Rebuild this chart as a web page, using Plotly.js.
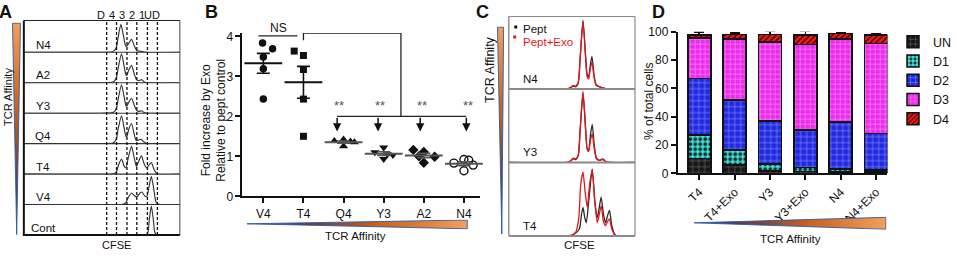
<!DOCTYPE html>
<html><head><meta charset="utf-8">
<script src="https://cdn.plot.ly/plotly-3.0.1.min.js"></script>
<style>html,body{margin:0;padding:0;background:#fff;} #chart{width:957px;height:256px;}</style>
</head><body><div id="chart"></div>
<script>
// ---------------- DATA ----------------
// Panel A: CFSE histograms (arbitrary CFSE units 0-100, normalised height 0-1)
const rowsA = ['N4','A2','Y3','Q4','T4','V4','Cont'];
const gatesA = [53.1,59.4,66.1,72.4,79.2,85.6];
const gateLabelsA = ['D','4','3','2','1','UD'];
const A_N4 = [[0,0],[50,0],[56.9,0.02],[58.1,0.06],[59.3,0.16],[60.3,0.45],[62.2,0.92],[64.0,0.5],[65.0,0.25],[65.8,0.19],[67.3,0.3],[69.0,0.43],[70.7,0.22],[72.4,0.06],[75.4,0.03],[78.1,0],[100,0]];
const A_A2 = [[0,0],[50,0],[57,0.02],[58.3,0.07],[59.4,0.18],[60.5,0.5],[62.6,0.95],[64.4,0.5],[65.3,0.28],[65.9,0.24],[67.3,0.42],[69.0,0.57],[70.7,0.3],[72.2,0.1],[73.5,0.07],[75.6,0.1],[77,0.03],[78.5,0],[100,0]];
const A_Y3 = [[0,0],[50,0],[57,0.02],[58.3,0.07],[59.4,0.17],[60.5,0.48],[62.6,0.93],[64.4,0.5],[65.3,0.27],[65.9,0.22],[67.3,0.36],[69.0,0.49],[70.7,0.27],[72.2,0.1],[73.5,0.06],[75.6,0.08],[77,0.02],[78.5,0],[100,0]];
const A_Q4 = [[0,0],[50,0],[57,0.02],[58.3,0.07],[59.4,0.18],[60.5,0.5],[62.6,0.91],[64.4,0.48],[65.3,0.26],[65.9,0.22],[67.3,0.48],[69.0,0.66],[70.7,0.32],[71.9,0.11],[73.5,0.12],[75.2,0.14],[76.8,0.06],[79,0],[100,0]];
const A_T4 = [[0,0],[56,0],[58,0.02],[59.4,0.08],[60.7,0.3],[62.6,0.49],[64.3,0.26],[65.4,0.2],[67.0,0.55],[69.0,0.91],[70.9,0.5],[72.2,0.25],[73.8,0.45],[75.4,0.6],[77.2,0.32],[78.8,0.2],[80.2,0.3],[81.7,0.38],[83.5,0.15],[85.5,0],[100,0]];
const A_V4 = [[0,0],[62,0],[64,0.02],[65.4,0.06],[67,0.24],[69,0.38],[70.7,0.3],[72.2,0.25],[74.5,0.38],[75.8,0.41],[77.5,0.28],[78.8,0.26],[80.1,0.55],[81.7,0.93],[83.3,0.5],[84.6,0.1],[86,0.02],[87.7,0],[100,0]];
const A_Cont = [[0,0],[77,0],[78.7,0.02],[79.6,0.1],[80.4,0.5],[81.7,0.95],[83.0,0.5],[83.9,0.1],[84.9,0.02],[86,0],[100,0]];

// Panel B: fold increase by Exo
const catsB = ['V4','T4','Q4','Y3','A2','N4'];
const B_V4 = [3.83,3.69,3.48,3.19,2.43];
const B_T4 = [3.63,3.52,3.17,2.43,1.50];
const B_Q4 = [1.38,1.42,1.37,1.35,1.25];
const B_Y3 = [1.22,1.10,1.05,1.03,0.93];
const B_A2 = [1.16,1.11,1.00,0.99,0.84];
const B_N4 = [0.92,0.83,0.90,0.78,0.64];

// Panel C: CFSE histograms Pept vs Pept+Exo
const rowsC = ['N4','Y3','T4'];
const C_N4_pept = [[0,0],[46,0],[49,0.02],[51,0.04],[53,0.03],[55,0.08],[56.5,0.4],[58.8,0.95],[60.9,0.45],[62.1,0.2],[63.3,0.17],[64.5,0.32],[65.9,0.45],[67.5,0.2],[69.2,0.06],[72,0.03],[76,0.01],[79,0],[100,0]];
const C_N4_exo  = [[0,0],[46,0],[49,0.02],[51,0.05],[53,0.04],[55,0.09],[56.5,0.42],[58.8,0.93],[60.9,0.42],[62.1,0.17],[63.3,0.14],[64.5,0.27],[65.9,0.37],[67.5,0.17],[69.2,0.05],[72,0.03],[76,0.01],[79,0],[100,0]];
const C_Y3_pept = [[0,0],[46,0],[49,0.02],[51,0.05],[53,0.04],[55,0.09],[56.5,0.42],[58.8,0.94],[60.9,0.44],[62.1,0.19],[63.3,0.16],[64.6,0.36],[66.1,0.52],[67.7,0.24],[69.5,0.06],[72,0.03],[74.6,0.05],[77,0.01],[80,0],[100,0]];
const C_Y3_exo  = [[0,0],[46,0],[49,0.02],[51,0.06],[53,0.05],[55,0.1],[56.5,0.44],[58.8,0.97],[60.9,0.45],[62.1,0.18],[63.3,0.15],[64.6,0.29],[66.1,0.39],[67.7,0.19],[69.5,0.05],[72,0.03],[74.6,0.04],[77,0.01],[80,0],[100,0]];
const C_T4_pept = [[0,0],[48,0],[53,0.04],[56,0.1],[57.5,0.28],[58.8,0.39],[60.2,0.25],[61.4,0.18],[63.5,0.5],[66.1,0.91],[68.3,0.45],[70.1,0.25],[71.8,0.4],[73.2,0.53],[75,0.3],[76.6,0.18],[78.3,0.28],[79.8,0.35],[81.5,0.15],[84,0.02],[86,0],[100,0]];
const C_T4_exo  = [[0,0],[48,0],[53,0.05],[55.5,0.25],[57,0.7],[58.8,0.87],[60.5,0.6],[62.2,0.39],[64,0.7],[66.1,0.9],[68,0.5],[70.1,0.18],[71.8,0.3],[73.2,0.41],[75,0.2],[76.6,0.14],[78.3,0.2],[79.8,0.23],[81.5,0.1],[84,0.01],[86,0],[100,0]];

// Panel D: % of total cells
const catsD = ['T4','T4+Exo','Y3','Y3+Exo','N4','N4+Exo'];
const D_UN = [10.6,5.9,1.5,1.1,1.0,0.8];
const D_D1 = [16.4,10.5,5.0,2.9,2.0,1.5];
const D_D2 = [40.0,35.3,30.4,26.6,33.4,25.9];
const D_D3 = [28.7,43.1,56.0,60.4,58.4,63.5];
const D_D4 = [1.9,3.3,5.2,6.6,4.0,5.9];
const D_D2_err = [0.7,1.7,3.1,2.3,2.8,1.6];
const D_D4_err = [2.4,0.8,2.3,2.8,0.6,1.2];

// ---------------- DRAWING ----------------
const W = 957, H = 256;
const px = v => v / W;
const py = v => 1 - v / H;
const FONT = 'Arial, "Liberation Sans", sans-serif';
const traces = [], shapes = [], annotations = [], images = [];
const layout = {
  width: W, height: H, margin: {l:0, r:0, t:0, b:0},
  paper_bgcolor: '#fff', plot_bgcolor: 'rgba(0,0,0,0)',
  font: {family: FONT, size: 12, color: '#111'},
  barmode: 'stack', showlegend: true,
  legend: {x: px(899), y: py(27), xanchor: 'left', yanchor: 'top', traceorder: 'normal',
           font: {size: 12.5, color: '#111'}, bgcolor: 'rgba(0,0,0,0)', tracegroupgap: 0}
};
function ann(text, x, y, o) {
  annotations.push(Object.assign({text: text, xref: 'paper', yref: 'paper', x: px(x), y: py(y),
    xanchor: 'center', yanchor: 'middle', showarrow: false, font: {size: 11, color: '#111'}}, o || {}));
}
function pline(x0, y0, x1, y1, color, width, dash) {
  shapes.push({type: 'line', xref: 'paper', yref: 'paper', x0: px(x0), y0: py(y0), x1: px(x1), y1: py(y1),
    line: {color: color, width: width, dash: dash || 'solid'}});
}
function triangle(x, y, w, h, pts, horizontal) {
  const stops = ['#1f3c8c','#6a3f45','#c9621f','#f2a05c'];
  const offs = horizontal ? [0, 0.3, 0.6, 1] : [1, 0.72, 0.4, 0];
  const grad = horizontal ? "x1='0' y1='0' x2='1' y2='0'" : "x1='0' y1='0' x2='0' y2='1'";
  let st = '';
  const order = horizontal ? [0,1,2,3] : [3,2,1,0];
  order.forEach(i => { st += "<stop offset='" + offs[i] + "' stop-color='" + stops[i] + "'/>"; });
  const svg = "<svg xmlns='http://www.w3.org/2000/svg' width='" + w + "' height='" + h + "' viewBox='0 0 " + w + " " + h +
    "' preserveAspectRatio='none'><defs><linearGradient id='g' " + grad + ">" + st + "</linearGradient></defs>" +
    "<polygon points='" + pts + "' fill='url(#g)' stroke='#2d5aa8' stroke-width='0.9'/></svg>";
  images.push({source: 'data:image/svg+xml;base64,' + btoa(svg), xref: 'paper', yref: 'paper',
    x: px(x), y: py(y), sizex: w / W, sizey: h / H, sizing: 'stretch', xanchor: 'left', yanchor: 'top', layer: 'above'});
}

// ----- Panel A -----
const histA = [A_N4, A_A2, A_Y3, A_Q4, A_T4, A_V4, A_Cont];
const A_L = 24, A_R = 181, A_TOP = 20.5, A_B0 = 52.3, A_ROW = 30.45;
layout.xaxis = {domain: [px(A_L), px(A_R)], range: [0, 100], visible: false, anchor: 'y7', fixedrange: true};
rowsA.forEach((name, i) => {
  const yid = i === 0 ? 'y' : 'y' + (i + 1);
  const key = i === 0 ? 'yaxis' : 'yaxis' + (i + 1);
  const base = A_B0 + i * A_ROW;
  layout[key] = {domain: [py(base), py(base - A_ROW)], range: [0, 1], visible: false, anchor: 'x', fixedrange: true};
  traces.push({type: 'scatter', mode: 'lines', x: histA[i].map(p => p[0]), y: histA[i].map(p => p[1]),
    xaxis: 'x', yaxis: yid, line: {color: '#333', width: 1.15, shape: 'spline', smoothing: 0.6},
    showlegend: false, hoverinfo: 'skip', cliponaxis: false});
  if (i < rowsA.length - 1) pline(A_L, base, A_R, base, '#333', 1.1);
  ann(name, 43.5, base - 7.5, {font: {size: 11.5, color: '#111'}});
});
// frame
pline(A_L, A_TOP, A_R, A_TOP, '#222', 1);
pline(A_R, A_TOP, A_R, A_B0 + 6 * A_ROW, '#444', 1);
pline(A_L, A_B0 + 6 * A_ROW, A_R, A_B0 + 6 * A_ROW, '#111', 2);
pline(A_L, A_TOP, A_L, A_B0 + 6 * A_ROW + 1, '#111', 2);
gatesA.forEach(g => {
  shapes.push({type: 'line', xref: 'x', yref: 'paper', x0: g, x1: g, y0: py(A_B0 + 6 * A_ROW), y1: py(A_TOP),
    line: {color: '#111', width: 1.3, dash: '3px,2px'}});
});
gateLabelsA.forEach((t, i) => {
  const xpos = i === 0 ? gatesA[0] - 3.8 : (gatesA[i - 1] + gatesA[i]) / 2;
  annotations.push({text: t, xref: 'x', yref: 'paper', x: xpos, y: py(15), showarrow: false,
    xanchor: 'center', yanchor: 'middle', font: {size: 11, color: '#111'}});
});
ann('CFSE', 117, 244.5, {font: {size: 11, color: '#111'}});
ann('TCR Affinity', 8, 97, {textangle: -90, font: {size: 11, color: '#111'}});
triangle(12, 22.5, 10, 213, '0.6,0.6 8.6,0.6 4.8,212', false);
ann('<b>A</b>', 6, 12, {font: {size: 18, color: '#111'}});

// ----- Panel B -----
const groupsB = [B_V4, B_T4, B_Q4, B_Y3, B_A2, B_N4];
const jitterB = [[-0.02,0.23,0,0,0],[-0.23,0,0,0,0],[-0.23,0,0.17,0.27,0],[0,-0.22,0.09,0.23,0],[-0.26,0,-0.12,0.27,0],[0,-0.25,0.12,0.23,0]];
const symB = ['circle','square','triangle-up','triangle-down','diamond','circle-open'];
const sizeB = [7.5,7,8,8,8,8];
layout.xaxis2 = {domain: [px(244), px(483)], range: [-0.52, 5.4], anchor: 'y8', tickvals: [0,1,2,3,4,5], ticktext: catsB,
  showline: true, linewidth: 2, linecolor: '#111', ticks: 'outside', ticklen: 5, tickwidth: 2, tickcolor: '#111',
  showgrid: false, zeroline: false, tickfont: {size: 12, color: '#111'}, fixedrange: true};
layout.yaxis8 = {domain: [py(196.3), py(33.1)], range: [0, 4.08], anchor: 'x2', tickvals: [0,1,2,3,4],
  showline: true, linewidth: 2, linecolor: '#111', ticks: 'outside', ticklen: 5, tickwidth: 2, tickcolor: '#111',
  showgrid: false, zeroline: false, tickfont: {size: 12, color: '#111'}, fixedrange: true};
const meanOf = a => a.reduce((s, v) => s + v, 0) / a.length;
const semOf = a => { const m = meanOf(a); return Math.sqrt(a.reduce((s, v) => s + (v - m) * (v - m), 0) / (a.length - 1) / a.length); };
groupsB.forEach((g, i) => {
  traces.push({type: 'scatter', mode: 'markers', x: g.map((v, j) => i + jitterB[i][j]), y: g, xaxis: 'x2', yaxis: 'y8',
    marker: {symbol: symB[i], size: sizeB[i], color: '#111', line: {color: '#111', width: symB[i] === 'circle-open' ? 1.4 : 0}},
    showlegend: false, hoverinfo: 'skip', cliponaxis: false});
});
groupsB.forEach((g, i) => {
  traces.push({type: 'scatter', mode: 'markers', x: [i], y: [meanOf(g)], xaxis: 'x2', yaxis: 'y8',
    marker: {symbol: 'line-ew', size: 27, color: '#111', line: {color: i > 1 ? '#555' : '#111', width: 2}},
    error_y: {type: 'data', array: [semOf(g)], visible: true, color: i > 1 ? '#555' : '#111', thickness: 1.6, width: 6.5},
    showlegend: false, hoverinfo: 'skip', cliponaxis: false});
});
function bline(x0, y0, x1, y1) {
  shapes.push({type: 'line', xref: 'x2', yref: 'y8', x0: x0, y0: y0, x1: x1, y1: y1, line: {color: '#222', width: 1.3}});
}
bline(-0.12, 4.01, 0.85, 4.01);
bline(1, 3.9, 1, 4.08);
bline(1, 4.08, 3.43, 4.08);
bline(3.43, 4.08, 3.43, 2.0);
bline(1.84, 2.0, 5.06, 2.0);
ann('NS', 280, 28, {font: {size: 12, color: '#111'}});
[1.84, 2.86, 3.91, 5.06].forEach(xa => {
  annotations.push({text: '', xref: 'x2', yref: 'y8', x: xa, y: 1.62, ax: xa, ay: 2.0, axref: 'x2', ayref: 'y8',
    showarrow: true, arrowhead: 2, arrowsize: 1.1, arrowwidth: 1.5, arrowcolor: '#111'});
  annotations.push({text: '**', xref: 'x2', yref: 'y8', x: xa + 0.05, y: 2.26, showarrow: false,
    font: {size: 13, color: '#555'}});
});
ann('Fold increase by Exo<br>Relative to pept control', 215, 120, {textangle: -90, font: {size: 12, color: '#111'}});
triangle(248, 219.5, 223, 10, '0.5,4.3 222.2,0.5 222.2,9.3', true);
ann('TCR Affinity', 358, 236, {font: {size: 11.5, color: '#111'}});
ann('<b>B</b>', 213, 12, {font: {size: 18, color: '#111'}});

// ----- Panel C -----
const histC = [[C_N4_pept, C_N4_exo], [C_Y3_pept, C_Y3_exo], [C_T4_pept, C_T4_exo]];
const C_L = 512, C_R = 639, C_TOP = 16.5;
const C_BASES = [89, 162.5, 236];
layout.xaxis3 = {domain: [px(C_L), px(C_R)], range: [0, 100], visible: false, anchor: 'y11', fixedrange: true};
rowsC.forEach((name, i) => {
  const top = i === 0 ? C_TOP : C_BASES[i - 1];
  const yid = 'y' + (9 + i);
  layout['yaxis' + (9 + i)] = {domain: [py(C_BASES[i]), py(top)], range: [0, 1], visible: false, anchor: 'x3', fixedrange: true};
  traces.push({type: 'scatter', mode: 'lines', x: histC[i][0].map(p => p[0]), y: histC[i][0].map(p => p[1]),
    xaxis: 'x3', yaxis: yid, line: {color: '#2a2a2a', width: 1.3, shape: 'spline', smoothing: 0.6},
    showlegend: false, hoverinfo: 'skip', cliponaxis: false});
  traces.push({type: 'scatter', mode: 'lines', x: histC[i][1].map(p => p[0]), y: histC[i][1].map(p => p[1]),
    xaxis: 'x3', yaxis: yid, line: {color: '#e5161d', width: 1.3, shape: 'spline', smoothing: 0.6},
    showlegend: false, hoverinfo: 'skip', cliponaxis: false});
  pline(C_L, C_BASES[i], C_R, C_BASES[i], '#8a8a8a', 2);
  ann(name, 533.5, C_BASES[i] - 10.5, {font: {size: 11.5, color: '#111'}});
});
pline(C_L, C_TOP, C_R, C_TOP, '#8a8a8a', 1.2);
pline(C_L, C_TOP, C_L, C_BASES[2], '#8a8a8a', 1.4);
pline(C_R, C_TOP, C_R, C_BASES[2], '#8a8a8a', 1.2);
shapes.push({type: 'rect', xref: 'paper', yref: 'paper', x0: px(517.5), x1: px(520.5), y0: py(28.5), y1: py(25.5), fillcolor: '#111', line: {width: 0}});
shapes.push({type: 'rect', xref: 'paper', yref: 'paper', x0: px(516.5), x1: px(519.5), y0: py(38.5), y1: py(35.5), fillcolor: '#e5161d', line: {width: 0}});
ann('Pept', 524, 29, {xanchor: 'left', font: {size: 11.5, color: '#111'}});
ann('Pept+Exo', 524, 41.5, {xanchor: 'left', font: {size: 11.5, color: '#e5161d'}});
ann('CFSE', 583.5, 244.5, {font: {size: 11.5, color: '#111'}});
ann('TCR Affinity', 493, 69, {textangle: -90, font: {size: 12.5, color: '#111'}});
triangle(500, 26.5, 8, 208, '0.6,0.6 6.8,0.6 5,207.4', false);
ann('<b>C</b>', 486, 12, {font: {size: 18, color: '#111'}});

// ----- Panel D -----
layout.xaxis4 = {domain: [px(682), px(893)], type: 'category', range: [-0.61, 5.32], anchor: 'y12', tickangle: -45,
  showline: true, linewidth: 2, linecolor: '#111', ticks: 'outside', ticklen: 5, tickwidth: 2, tickcolor: '#111',
  showgrid: false, zeroline: false, tickfont: {size: 12, color: '#111'}, fixedrange: true};
layout.yaxis12 = {domain: [py(173.3), py(31.7)], range: [0, 100], anchor: 'x4', dtick: 20,
  showline: true, linewidth: 2, linecolor: '#111', ticks: 'outside', ticklen: 5, tickwidth: 2, tickcolor: '#111',
  showgrid: false, zeroline: false, tickfont: {size: 12, color: '#111'}, fixedrange: true};
const seriesD = [
  {name: 'UN', v: D_UN, bg: '#161616', fg: '#8a8a8a', shape: '+', size: 6, sol: 0.15},
  {name: 'D1', v: D_D1, bg: '#3fe3df', fg: '#0d2b2b', shape: '.', size: 5, sol: 0.45},
  {name: 'D2', v: D_D2, bg: '#2029e0', fg: '#aab0ff', shape: '+', size: 6, sol: 0.15, err: D_D2_err},
  {name: 'D3', v: D_D3, bg: '#ec2cec', fg: '#ffc0ff', shape: '+', size: 5, sol: 0.15},
  {name: 'D4', v: D_D4, bg: '#ee1f1f', fg: '#5a0000', shape: '/', size: 4, sol: 0.4, err: D_D4_err}
];
seriesD.forEach(s => {
  const t = {type: 'bar', name: s.name, x: catsD, y: s.v, xaxis: 'x4', yaxis: 'y12', width: 0.65,
    marker: {color: s.bg, line: {color: '#111', width: 1.5},
      pattern: {shape: s.shape, fgcolor: s.fg, bgcolor: s.bg, size: s.size, solidity: s.sol, fillmode: 'replace'}},
    hoverinfo: 'skip', showlegend: true, cliponaxis: false};
  if (s.err) t.error_y = {type: 'data', array: s.err, arrayminus: s.err.map(() => 0), symmetric: false, visible: true,
    color: '#111', thickness: 1.6, width: 5};
  traces.push(t);
});
ann('% of total cells', 653, 101, {textangle: -90, font: {size: 12, color: '#111'}});
triangle(698, 216.8, 194, 13, '0.5,6 193.5,0.5 193.5,12.5', true);
ann('TCR Affinity', 795, 238.5, {font: {size: 11.5, color: '#111'}});
ann('<b>D</b>', 663, 12, {font: {size: 18, color: '#111'}});

layout.shapes = shapes;
layout.annotations = annotations;
layout.images = images;
Plotly.newPlot('chart', traces, layout, {staticPlot: true, displayModeBar: false});
</script>
</body></html>
